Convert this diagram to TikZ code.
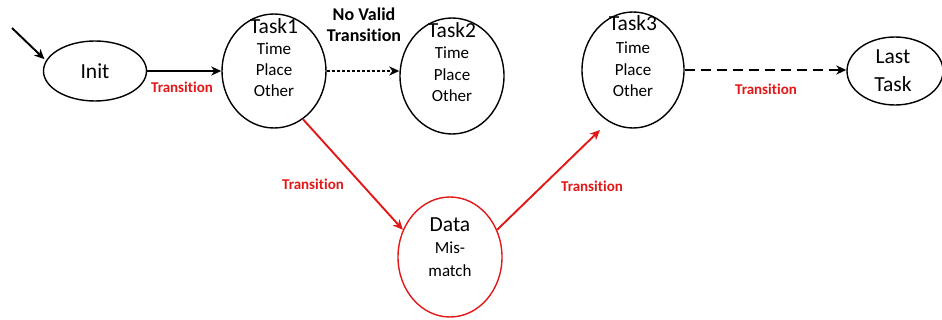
\documentclass[tikz,border=0pt]{standalone}
\usepackage{fontspec}
\setmainfont[Ligatures={NoCommon}]{Carlito}
\usetikzlibrary{shapes.geometric,arrows.meta,calc}
\definecolor{myred}{RGB}{226,24,24}
\begin{document}
\begin{tikzpicture}[x=1pt,y=-1pt,
  st/.style={draw,ellipse,line width=1.4pt,inner sep=0pt},
  ttl/.style={font=\fontsize{21.5}{22}\selectfont},
  sub/.style={font=\fontsize{17}{17}\selectfont},
  lbl/.style={font=\bfseries\fontsize{15}{15}\selectfont,text=myred},
  arr/.style={line width=1.9pt,-{Stealth[length=10pt,width=9pt,inset=3pt]}},
  redarr/.style={arr,draw=myred}]
\useasboundingbox (0,0) rectangle (942,320);
% states
\node[st,minimum width=103pt,minimum height=60pt] (init) at (95,71) {};
\node[st,minimum width=104pt,minimum height=114pt] (task1) at (274,71) {};
\node[st,minimum width=104pt,minimum height=116pt] (task2) at (452,76) {};
\node[st,minimum width=102pt,minimum height=116pt] (task3) at (633,70) {};
\node[st,minimum width=96pt,minimum height=68pt] (last) at (895,71) {};
\node[st,draw=myred,minimum width=104pt,minimum height=120pt] (data) at (450,257) {};
% texts
\node[ttl] (tinit) at (95,71) {Init};
\node[ttl] (t1a) at (274,26) {Task1};
\node[sub] (t1b) at (274,49) {Time};
\node[sub] (t1c) at (274,70) {Place};
\node[sub] (t1d) at (274,91) {Other};
\node[ttl] (t2a) at (452,30) {Task2};
\node[sub] (t2b) at (452,53) {Time};
\node[sub] (t2c) at (452,75) {Place};
\node[sub] (t2d) at (452,96) {Other};
\node[ttl] (t3a) at (633,23) {Task3};
\node[sub] (t3b) at (633,48) {Time};
\node[sub] (t3c) at (633,70) {Place};
\node[sub] (t3d) at (633,91) {Other};
\node[ttl] (tla) at (893,57) {Last};
\node[ttl] (tlb) at (893,84) {Task};
\node[ttl] (tda) at (450,225) {Data};
\node[sub] (tdb) at (450,248) {Mis-};
\node[sub] (tdc) at (450,271) {match};
% connectors
\coordinate (s0) at (12,28);
\draw[arr,shorten >=2pt] (s0) -- (init.168);
\draw[arr] (init.east) -- (init.east -| task1.west);
\node[lbl] (l1) at (182,87) {Transition};
\draw[arr,dash pattern=on 3pt off 2pt] (task1.east) -- (task1.east -| task2.west);
\node[font=\bfseries\fontsize{18}{18}\selectfont,align=center] (l2) at (364,25) {No Valid\\[3pt]Transition};
\draw[redarr] (task1.-59) -- (data.150);
\node[lbl] (l3) at (313,184) {Transition};
\coordinate (t3in) at (600,130);
\draw[redarr] (data.30) -- (t3in);
\node[lbl] (l4) at (592,186) {Transition};
\draw[arr,dash pattern=on 10pt off 6pt] (task3.east) -- (task3.east -| last.west);
\node[lbl] (l5) at (766,89) {Transition};
\end{tikzpicture}
\end{document}
